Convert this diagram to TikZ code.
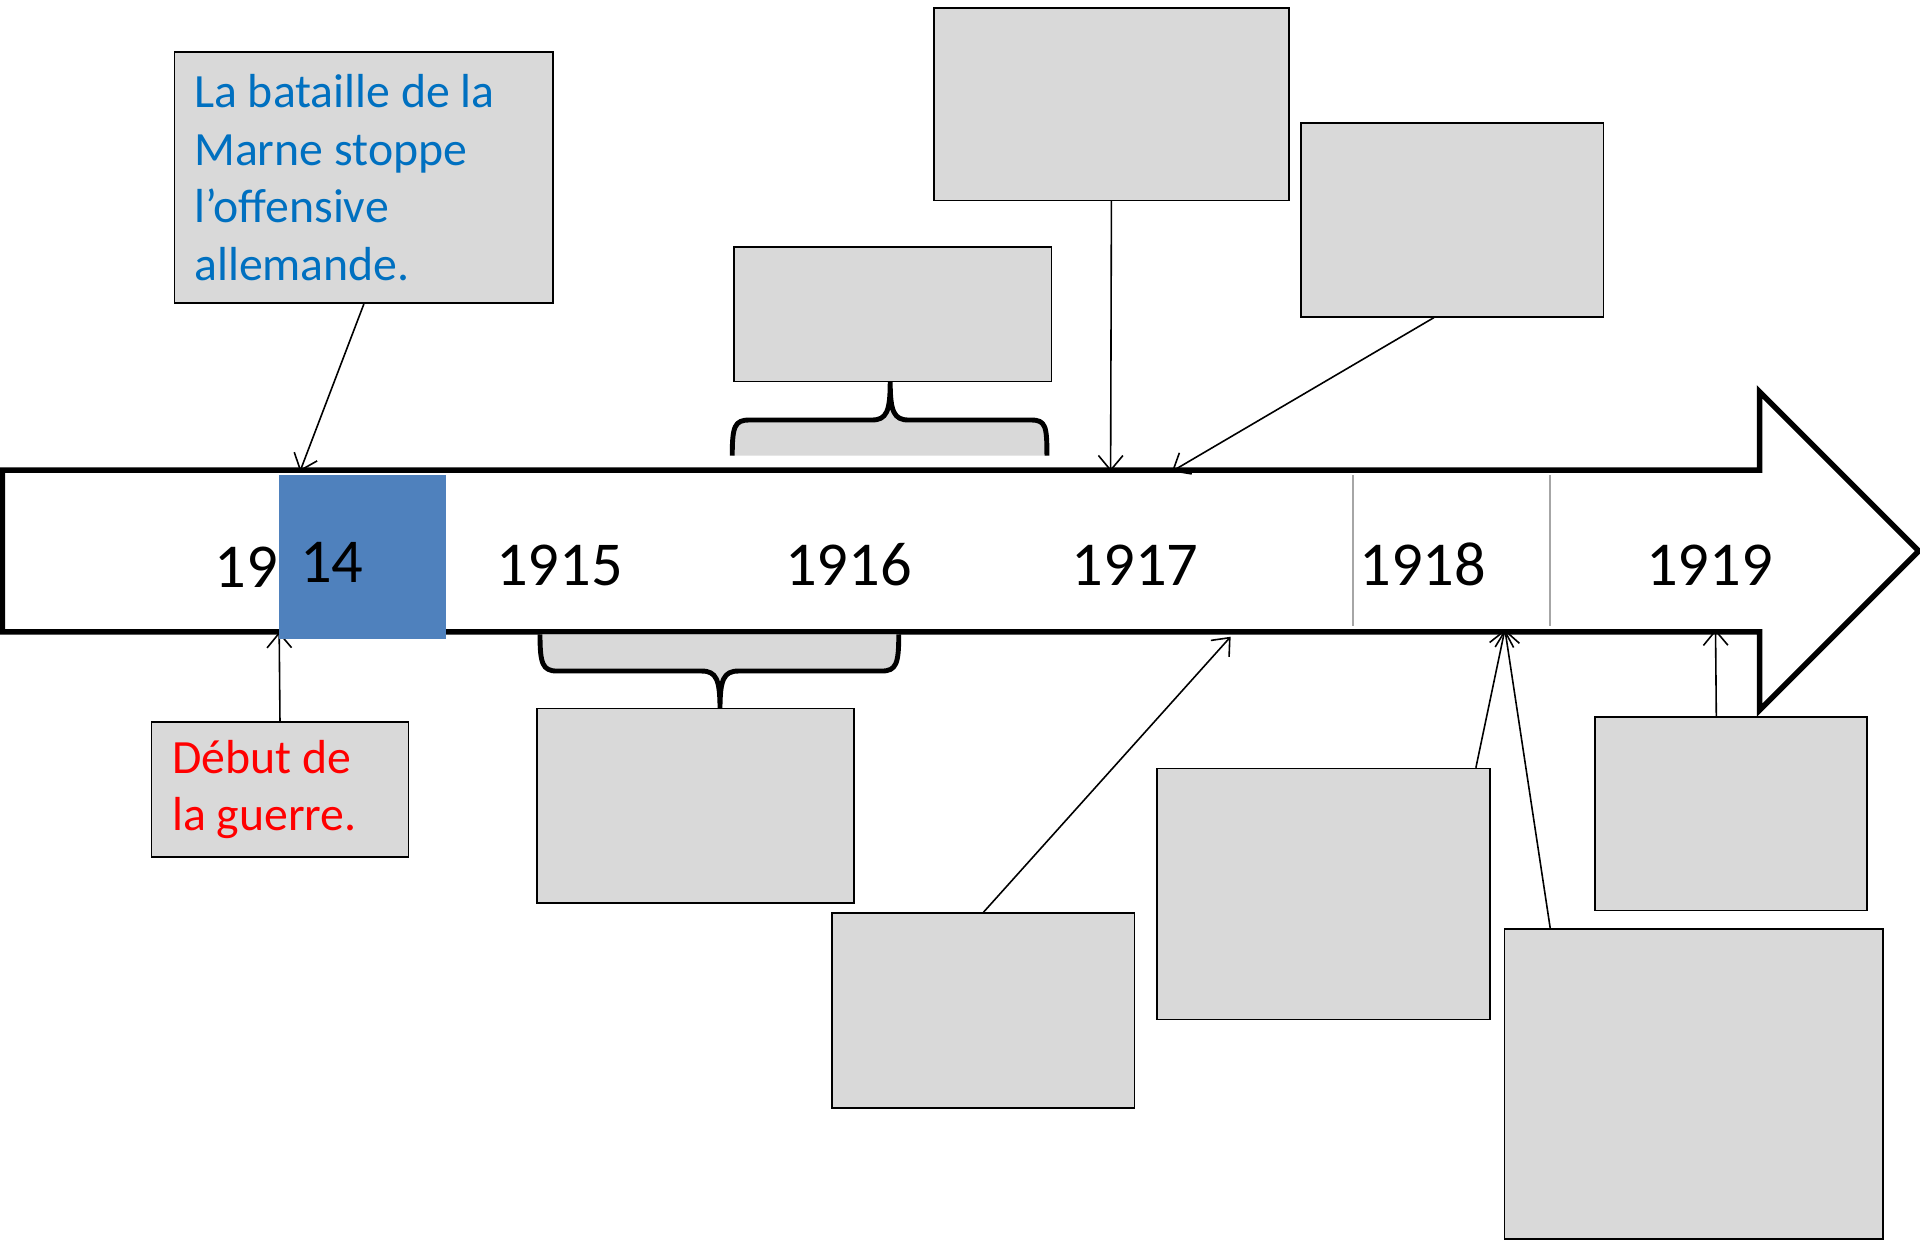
\documentclass[tikz,border=0pt]{standalone}
\usepackage{fontspec}
\setmainfont{Carlito}
\usepackage{tikz}
\usetikzlibrary{arrows.meta,positioning,calc}
\definecolor{tlgray}{RGB}{217,217,217}
\definecolor{tlblue}{RGB}{79,129,189}
\definecolor{tltext}{RGB}{0,112,192}
\definecolor{tlred}{RGB}{255,0,0}
\definecolor{tlsep}{RGB}{166,166,166}

\begin{document}
\begin{tikzpicture}[x=1pt, y=-1pt,
    event/.style={draw, fill=tlgray, line width=1.3pt, anchor=north west, inner sep=0pt},
    note/.style={event, align=flush left, inner xsep=16pt, font=\fontsize{39}{47}\selectfont},
    year/.style={anchor=base, font=\fontsize{51}{60}\selectfont},
    link/.style={-{Straight Barb[length=12pt,width=20pt]}, line width=1.3pt},
    brace/.style={line width=4pt, line join=round}]
    \useasboundingbox (0,0) rectangle (1568,1013);

    % Timeline arrow
    \draw[line width=4.5pt, fill=white] (2,384) -- (1437,384) -- (1437,320) -- (1567,450)
        -- (1437,580) -- (1437,516) -- (2,516) -- cycle;
    \draw[tlsep, line width=1.5pt] (1105,388) -- (1105,511);
    \draw[tlsep, line width=1.5pt] (1266,388) -- (1266,511);

    % Braces
    \fill[tlgray] (598,372) .. controls (598,348) and (600,343) .. (612,343) -- (712,343)
        .. controls (724,343) and (727,336) .. (727,312) .. controls (727,336) and (730,343) .. (742,343)
        -- (842,343) .. controls (854,343) and (855,348) .. (855,372) -- cycle;
    \draw[brace] (598,372) .. controls (598,348) and (600,343) .. (612,343) -- (712,343)
        .. controls (724,343) and (727,336) .. (727,312) .. controls (727,336) and (730,343) .. (742,343)
        -- (842,343) .. controls (854,343) and (855,348) .. (855,372);
    \fill[tlgray] (441,518) .. controls (441,542) and (443,548) .. (455,548) -- (573,548)
        .. controls (585,548) and (588,555) .. (588,579) .. controls (588,555) and (591,548) .. (603,548)
        -- (720,548) .. controls (732,548) and (734,542) .. (734,518) -- cycle;
    \draw[brace] (441,518) .. controls (441,542) and (443,548) .. (455,548) -- (573,548)
        .. controls (585,548) and (588,555) .. (588,579) .. controls (588,555) and (591,548) .. (603,548)
        -- (720,548) .. controls (732,548) and (734,542) .. (734,518);

    % Event boxes
    \node[note, text=tltext, text width=277pt, minimum height=205pt] (marne) at (142,42)
        {La bataille de la\\Marne stoppe\\l’offensive\\allemande.};
    \node[note, text=tlred, inner xsep=17pt, text width=176pt, minimum height=110pt] (debut) at (123,589)
        {Début de\\la guerre.};
    \node[event, minimum width=259pt, minimum height=110pt] (b1916) at (599,201) {};
    \node[event, minimum width=290pt, minimum height=157pt] (b1917a) at (762,6) {};
    \node[event, minimum width=247pt, minimum height=158pt] (b1917b) at (1062,100) {};
    \node[event, minimum width=259pt, minimum height=159pt] (b1915) at (438,578) {};
    \node[event, minimum width=247pt, minimum height=159pt] (b1917c) at (679,745) {};
    \node[event, minimum width=272pt, minimum height=205pt] (b1918a) at (944,627) {};
    \node[event, minimum width=222pt, minimum height=158pt] (b1919) at (1302,585) {};
    \node[event, minimum width=309pt, minimum height=253pt] (b1918b) at (1228,758) {};

    % Links to the timeline
    \coordinate (m14) at (245,385);
    \coordinate (d14) at (228,516);
    \coordinate (m17a) at (907,385);
    \coordinate (m17b) at (957,385);
    \coordinate (m17c) at (1005,520);
    \coordinate (m18) at (1229,514);
    \coordinate (m19) at (1401,514);
    \draw[link] (marne.south) -- (m14);
    \draw[link] (debut.north) -- (d14);
    \draw[link] (b1917a.south) -- (m17a);
    \draw[link] ([xshift=-15pt]b1917b.south) -- (m17b);
    \draw[link] (b1917c.north) -- (m17c);
    \draw[link] ([xshift=-12pt]b1918a.north east) -- (m18);
    \draw[link] ([xshift=38pt]b1918b.north west) -- (m18);
    \draw[link] ([xshift=-12pt]b1919.north) -- (m19);

    % Years
    \fill[tlblue] (228,388) rectangle (364,522);
    \node[year] (y19) at (201,480) {19};
    \node[year] (y14) at (271,476) {14};
    \node[year] (y1915) at (457,478) {1915};
    \node[year] (y1916) at (693,478) {1916};
    \node[year] (y1917) at (927,478) {1917};
    \node[year] (y1918) at (1162,478) {1918};
    \node[year] (y1919) at (1396,478) {1919};
\end{tikzpicture}
\end{document}
